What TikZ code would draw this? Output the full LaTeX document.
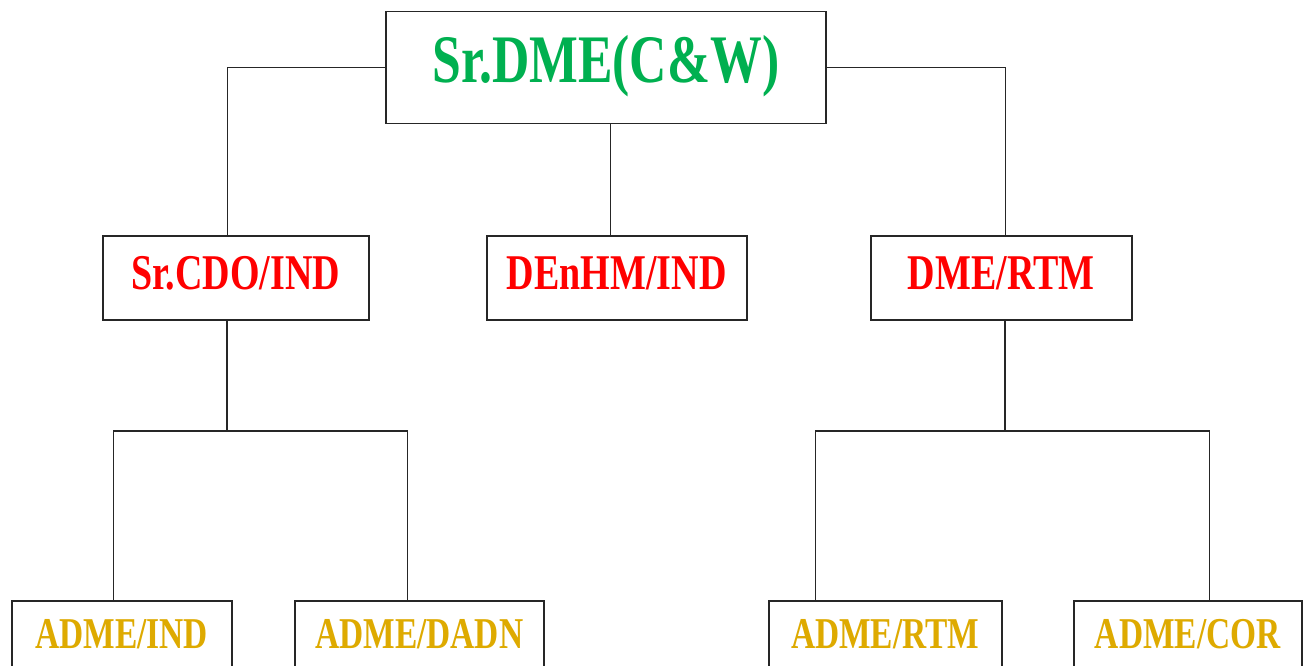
\documentclass[tikz,border=0pt]{standalone}
\usepackage{fontspec}
\newfontfamily\condserif[FakeStretch=0.76]{Liberation Serif}
\definecolor{topgreen}{RGB}{0,176,80}
\definecolor{midred}{RGB}{255,0,0}
\definecolor{lowgold}{RGB}{222,170,0}
\tikzset{
  box/.style={draw=black!85, line width=1.5pt, rectangle, anchor=north west, inner sep=0pt, font=\condserif\bfseries},
  topbox/.style={box, minimum width=440pt, minimum height=112pt, text=topgreen, text height=45pt, text depth=15pt, font=\condserif\bfseries\fontsize{68pt}{70pt}\selectfont},
  midbox/.style={box, minimum height=84pt, text=midred, text height=33pt, text depth=9pt, font=\condserif\bfseries\fontsize{50pt}{52pt}\selectfont},
  lowbox/.style={box, minimum height=90pt, text=lowgold, text height=29pt, text depth=23pt, font=\condserif\bfseries\fontsize{44pt}{46pt}\selectfont},
  link/.style={draw=black!85, line width=1.3pt}
}
\begin{document}
\begin{tikzpicture}[x=1pt,y=-1pt]
\useasboundingbox (0,0) rectangle (1308,666);
\clip (0,0) rectangle (1308,666);
\fill[white] (0,0) rectangle (1308,666);
\node[topbox] (top) at (385,11) {Sr.DME(C\&W)};
\node[midbox, minimum width=266pt] (cdo) at (102,235) {Sr.CDO/IND};
\node[midbox, minimum width=260pt] (den) at (486,235) {DEnHM/IND};
\node[midbox, minimum width=261pt] (dme) at (870,235) {DME/RTM};
\node[lowbox, minimum width=220pt] (ai) at (11,600) {ADME/IND};
\node[lowbox, minimum width=249pt] (ad) at (294,600) {ADME/DADN};
\node[lowbox, minimum width=233pt] (ar) at (768,600) {ADME/RTM};
\node[lowbox, minimum width=228pt] (ac) at (1073,600) {ADME/COR};
\coordinate (jl) at (227,431);
\coordinate (jr) at (1005,431);
\draw[link] (top.west) -| ([xshift=-8pt]cdo.north);
\draw[link] (top.east) -| ([xshift=4.5pt]dme.north);
\draw[link] ([xshift=-6pt]den.north) -- ([xshift=-6pt]den.north |- top.south);
\draw[link] (jl |- cdo.south) -- (jl);
\draw[link] ([xshift=-8pt]ai.north) |- (jl) -| ([xshift=-11.5pt]ad.north);
\draw[link] (jr |- dme.south) -- (jr);
\draw[link] ([xshift=-69.5pt]ar.north) |- (jr) -| ([xshift=22pt]ac.north);
\end{tikzpicture}
\end{document}
